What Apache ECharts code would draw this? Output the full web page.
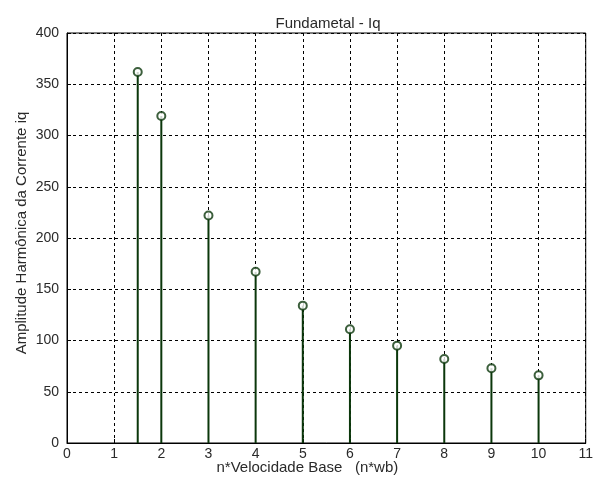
<!DOCTYPE html>
<html>
<head>
<meta charset="utf-8">
<script src="https://cdn.jsdelivr.net/npm/echarts@6/dist/echarts.min.js"></script>
<style>
  html, body { margin: 0; padding: 0; background: #fff; }
  #chart { width: 596px; height: 486px; }
</style>
</head>
<body>
<div id="chart"></div>
<script>
// harmonic order (n * base speed) and amplitude of iq
var ordens = [1.5, 2, 3, 4, 5, 6, 7, 8, 9, 10];
var amplitudes = [362, 319, 222, 167, 134, 111, 95, 82, 73, 66];

var stemData = [];
for (var i = 0; i < ordens.length; i++) {
    stemData.push([ordens[i], amplitudes[i]]);
}

var chart = echarts.init(document.getElementById('chart'));
var fonte = 'Liberation Sans, Arial, sans-serif';
var corStem = '#0b370b';
var corTexto = '#2a2a2a';

var option = {
    backgroundColor: '#fff',
    animation: false,
    title: {
        text: 'Fundametal - Iq',
        left: 323,
        top: 11,
        textAlign: 'center',
        textStyle: { fontFamily: fonte, fontSize: 15, fontWeight: 'normal', color: corTexto }
    },
    grid: {
        left: 67,
        right: 8,
        top: 33,
        bottom: 43,
        show: true,
        borderColor: '#000',
        borderWidth: 1
    },
    xAxis: {
        type: 'value',
        min: 0,
        max: 11,
        interval: 1,
        name: 'n*Velocidade Base   (n*wb)',
        nameLocation: 'middle',
        nameGap: 17,
        nameMoveOverlap: false,
        nameTextStyle: { fontFamily: fonte, fontSize: 15, color: corTexto, padding: [0, 38, 0, 0] },
        axisLine: { show: true, lineStyle: { color: '#000' } },
        axisTick: { show: true, inside: true, length: 4, lineStyle: { color: '#000' } },
        axisLabel: { fontFamily: fonte, fontSize: 14, color: corTexto, margin: 4 },
        splitLine: { show: true, lineStyle: { color: '#000', type: [3, 3], width: 1 } }
    },
    yAxis: {
        type: 'value',
        min: 0,
        max: 400,
        interval: 50,
        name: 'Amplitude Harmônica da Corrente iq',
        nameLocation: 'middle',
        nameGap: 38,
        nameMoveOverlap: false,
        nameTextStyle: { fontFamily: fonte, fontSize: 15, color: corTexto, padding: [0, 0, 0, 10] },
        axisLine: { show: true, lineStyle: { color: '#000' } },
        axisTick: { show: true, inside: true, length: 4, lineStyle: { color: '#000' } },
        axisLabel: { fontFamily: fonte, fontSize: 14, color: corTexto, margin: 8 },
        splitLine: { show: true, lineStyle: { color: '#000', type: [3, 3], width: 1 } }
    },
    series: [
        {
            type: 'bar',
            data: stemData,
            barWidth: 2,
            itemStyle: { color: corStem },
            z: 2
        },
        {
            type: 'scatter',
            data: stemData,
            symbol: 'circle',
            symbolSize: 8,
            itemStyle: { color: '#fff', borderColor: corStem, borderWidth: 2 },
            z: 3
        }
    ]
};
chart.setOption(option);
</script>
</body>
</html>
